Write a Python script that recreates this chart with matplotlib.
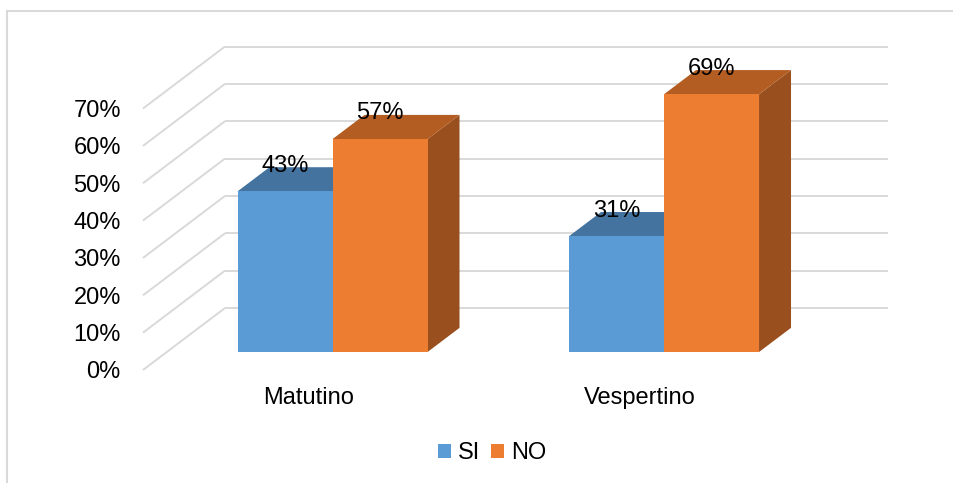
import matplotlib
matplotlib.use("Agg")
import matplotlib.pyplot as plt
from matplotlib.patches import Polygon, Rectangle, Patch

plt.rcParams['font.family'] = ['Liberation Sans', 'DejaVu Sans']

# ---- data ----
categories = ["Matutino", "Vespertino"]
series_names = ["SI", "NO"]
si_values = [43, 31]
no_values = [57, 69]
y_ticks = [0, 10, 20, 30, 40, 50, 60, 70]
y_tick_labels = ["0%", "10%", "20%", "30%", "40%", "50%", "60%", "70%"]

# ---- style ----
front_colors = ["#5B9BD5", "#ED7D31"]
top_colors = ["#44739F", "#B35D22"]
side_colors = ["#3F6A93", "#9A4F1E"]
grid_color = "#D9D9D9"
FS = 17

W, H = 954, 483
fig = plt.figure(figsize=(W / 100, H / 100), dpi=100)

# front plane of the 3D box (pixel layout)
left_px, right_px, bottom_px, top_px = 143, 806, 370, 108.5
ax = fig.add_axes([left_px / W, 1 - bottom_px / H,
                   (right_px - left_px) / W, (bottom_px - top_px) / H])
ax.set_xlim(0, len(categories))
ax.set_ylim(0, 70)
for s in ax.spines.values():
    s.set_visible(False)
ax.patch.set_visible(False)

# oblique projection: depth offset in data units
px_per_x = (right_px - left_px) / len(categories)
px_per_y = (bottom_px - top_px) / 70
DX = 82 / px_per_x
DY = 62 / px_per_y

def proj(x, y, z):
    return (x + z * DX, y + z * DY)

# gridlines: back wall and left wall
for v in y_ticks:
    xs, ys = zip(proj(0, v, 1), proj(len(categories), v, 1))
    ax.plot(xs, ys, color=grid_color, lw=1.4, clip_on=False, zorder=1,
            solid_capstyle='butt')
    xs, ys = zip(proj(0, v, 0), proj(0, v, 1))
    ax.plot(xs, ys, color=grid_color, lw=1.4, clip_on=False, zorder=1,
            solid_capstyle='butt')

# bars
bar_w = 95 / px_per_x
z0, z1 = 0.29, 0.68
values = [si_values, no_values]
for ci, cat in enumerate(categories):
    c = ci + 0.5
    for si in range(len(series_names)):
        v = values[si][ci]
        x0 = c - bar_w + si * bar_w
        x1 = x0 + bar_w
        zo = 2 + si
        # side face
        side = [proj(x1, 0, z0), proj(x1, 0, z1), proj(x1, v, z1), proj(x1, v, z0)]
        ax.add_patch(Polygon(side, closed=True, facecolor=side_colors[si],
                             edgecolor='none', clip_on=False, zorder=zo))
        # top face
        top = [proj(x0, v, z0), proj(x1, v, z0), proj(x1, v, z1), proj(x0, v, z1)]
        ax.add_patch(Polygon(top, closed=True, facecolor=top_colors[si],
                             edgecolor='none', clip_on=False, zorder=zo))
        # front face
        front = [proj(x0, 0, z0), proj(x1, 0, z0), proj(x1, v, z0), proj(x0, v, z0)]
        ax.add_patch(Polygon(front, closed=True, facecolor=front_colors[si],
                             edgecolor='none', clip_on=False, zorder=zo))
        # label: centred over the front face, at the level of the top's back edge
        lx = (x0 + x1) / 2 + z0 * DX
        ly = v + z1 * DY
        ax.text(lx, ly + 0.4, f"{v}%", ha='center', va='center', fontsize=FS,
                color='black', zorder=10, clip_on=False)

# axes ticks
ax.set_yticks(y_ticks)
ax.set_yticklabels(y_tick_labels, fontsize=FS)
ax.tick_params(axis='y', length=0, pad=16)
ax.set_xticks([i + 0.5 for i in range(len(categories))])
ax.set_xticklabels(categories, fontsize=FS)
ax.tick_params(axis='x', length=0, pad=12)

# legend
handles = [Patch(facecolor=front_colors[i], edgecolor='none', label=series_names[i])
           for i in range(len(series_names))]
fig.legend(handles=handles, loc='center', bbox_to_anchor=(492 / W, 1 - 453 / H),
           ncol=2, frameon=False, fontsize=FS, handlelength=0.55,
           handleheight=0.55, handletextpad=0.3, columnspacing=0.45,
           borderpad=0)

# outer chart frame
fig.add_artist(Rectangle((7.5 / W, -0.1), 1.2, (1 - 11 / H) + 0.1,
                         transform=fig.transFigure, fill=False,
                         edgecolor=grid_color, lw=1.5))

fig.savefig("out.png", dpi=100)
